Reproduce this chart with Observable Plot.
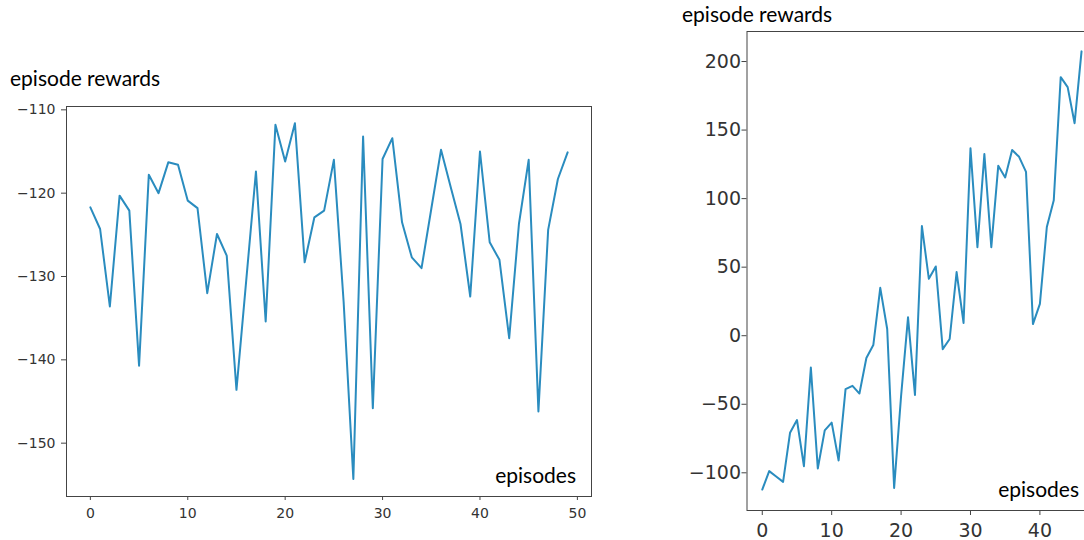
<!DOCTYPE html>
<html><head><meta charset="utf-8">
<script src="https://cdn.jsdelivr.net/npm/d3@7"></script>
<script src="https://cdn.jsdelivr.net/npm/@observablehq/plot@0.6"></script>
<style>
html,body{margin:0;padding:0;background:#fff;overflow:hidden;width:1084px;height:540px}
#wrap{position:relative;width:1084px;height:540px;overflow:hidden}
.chart{position:absolute;top:0}
#labels{position:absolute;left:0;top:0;pointer-events:none}
</style></head><body><div id="wrap"></div>
<script>
// Left chart: episode rewards per episode
const leftRewards = [
  -121.7, -124.3, -133.6, -120.3, -122.1, -140.7, -117.8, -120.0, -116.3, -116.6,
  -120.9, -121.8, -132.0, -124.9, -127.5, -143.6, -130.5, -117.4, -135.4, -111.8,
  -116.2, -111.6, -128.3, -122.9, -122.1, -116.0, -133.0, -154.3, -113.2, -145.8,
  -115.9, -113.4, -123.5, -127.7, -129.0, -121.9, -114.8, -119.3, -123.7, -132.4,
  -115.0, -125.9, -128.0, -137.4, -123.7, -116.0, -146.2, -124.4, -118.3, -115.1
];
// Right chart: episode rewards per episode (visible part; the picture is cut at the right edge)
const rightRewards = [
  -112.2, -98.8, -102.7, -106.6, -70.8, -61.5, -95.2, -23.2, -96.9, -69.1,
  -63.4, -91.0, -39.0, -36.6, -42.2, -16.3, -6.8, 34.9, 4.9, -111.0,
  -44.0, 13.4, -43.2, 80.0, 41.5, 50.5, -9.8, -2.4, 46.4, 9.3,
  136.7, 64.6, 132.5, 64.6, 123.9, 115.4, 135.4, 130.5, 119.5, 8.5,
  23.2, 79.3, 98.8, 188.6, 181.3, 155.0, 207.4
];
const leftXTicks = [0, 10, 20, 30, 40, 50];
const leftYTicks = [-150, -140, -130, -120, -110];
const rightXTicks = [0, 10, 20, 30, 40];
const rightYTicks = [-100, -50, 0, 50, 100, 150, 200];
const yLabel = "episode rewards";
const xLabel = "episodes";

const tickFmt = d => d < 0 ? "\u2212" + Math.abs(d) : String(d);
const LINE = "#2a8cbf";
const AXIS = "#444";
const TEXT = "#333";

function chart(o) {
  const data = o.rewards.map((r, i) => ({episode: i, reward: r}));
  return Plot.plot({
    width: o.width, height: o.height,
    marginLeft: o.ml, marginRight: o.mr, marginTop: o.mt, marginBottom: o.mb,
    style: {fontFamily: "DejaVu Sans", fontSize: o.fs + "px", color: TEXT, background: "transparent"},
    x: {domain: o.xDomain, label: null},
    y: {domain: o.yDomain, label: null},
    marks: [
      Plot.axisX({ticks: o.xTicks, tickFormat: tickFmt, tickSize: o.xts, tickPadding: o.xtp, label: null,
        stroke: AXIS, fill: TEXT, fontSize: o.fs}),
      Plot.axisY({ticks: o.yTicks, tickFormat: tickFmt, tickSize: o.yts, tickPadding: o.ytp, label: null,
        stroke: AXIS, fill: TEXT, fontSize: o.fs}),
      Plot.line(data, {x: "episode", y: "reward", stroke: LINE, strokeWidth: 2}),
      Plot.frame({stroke: AXIS, strokeWidth: 1})
    ]
  });
}

const wrap = document.getElementById("wrap");

const left = chart({
  rewards: leftRewards, width: 600, height: 540,
  ml: 66, mr: 9, mt: 106, mb: 44,
  xDomain: [-2.45, 51.45], yDomain: [-156.4, -109.6],
  xTicks: leftXTicks, yTicks: leftYTicks,
  fs: 14, xts: 4, xtp: 8, yts: 5, ytp: 6
});
left.classList.add("chart");
left.style.left = "0px";
wrap.appendChild(left);

const right = chart({
  rewards: rightRewards, width: 440, height: 540,
  ml: 66.5, mr: 23, mt: 31, mb: 30,
  xDomain: [-2.2, 48.3], yDomain: [-127.5, 221.9],
  xTicks: rightXTicks, yTicks: rightYTicks,
  fs: 19, xts: 5, xtp: 8, yts: 5, ytp: 1
});
right.classList.add("chart");
right.style.left = "680px";
wrap.appendChild(right);

// Axis titles as real text
const ns = "http://www.w3.org/2000/svg";
const lab = document.createElementNS(ns, "svg");
lab.setAttribute("id", "labels");
lab.setAttribute("width", 1084);
lab.setAttribute("height", 540);
const texts = [
  {t: yLabel, x: 10, y: 86, anchor: "start"},
  {t: yLabel, x: 682, y: 22, anchor: "start"},
  {t: xLabel, x: 576, y: 483, anchor: "end"},
  {t: xLabel, x: 1079, y: 497, anchor: "end"}
];
for (const d of texts) {
  const el = document.createElementNS(ns, "text");
  el.setAttribute("x", d.x);
  el.setAttribute("y", d.y);
  el.setAttribute("text-anchor", d.anchor);
  el.setAttribute("font-family", "Lato");
  el.setAttribute("font-size", "21");
  el.setAttribute("fill", "#000");
  el.textContent = d.t;
  lab.appendChild(el);
}
wrap.appendChild(lab);
</script>
</body></html>
